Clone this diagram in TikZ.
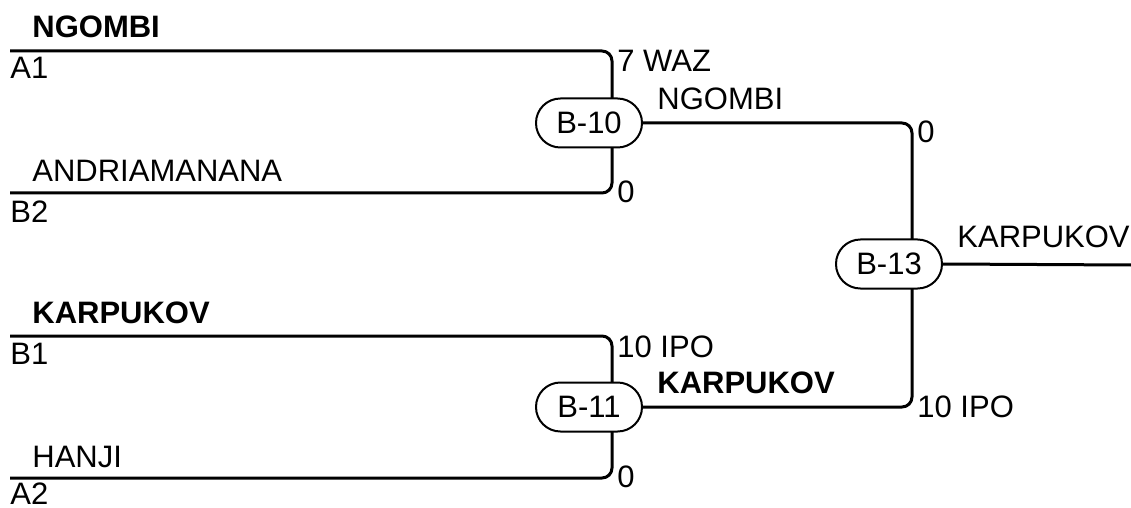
\documentclass[tikz,border=0pt]{standalone}
\usepackage{fontspec}
\setmainfont{Liberation Sans}
\usetikzlibrary{backgrounds}
\begin{document}
\begin{tikzpicture}[x=0.5pt,y=-0.5pt,
  every node/.style={font=\fontsize{15.5}{18}\selectfont, inner sep=0pt},
  lbl/.style={anchor=base west},
  win/.style={anchor=base west, font=\fontsize{15.5}{18}\selectfont\bfseries},
  game/.style={draw, line width=1pt, fill=white, rounded corners=12.2pt, minimum width=53pt, minimum height=24.5pt},
  wire/.style={line width=1.5pt, rounded corners=5pt}]
\useasboundingbox (0,0) rectangle (1131,508);
% games
\node[game] (b10) at (589,123) {B-10};
\node[game] (b11) at (589,407) {B-11};
\node[game] (b13) at (889,264) {B-13};
% wire ends / junctions
\coordinate (a1) at (10,51);
\coordinate (b2) at (10,193);
\coordinate (b1) at (10,336);
\coordinate (a2) at (10,478);
\coordinate (j10) at (612,123);
\coordinate (j11) at (612,407);
\coordinate (j13) at (912,264);
\coordinate (fin) at (1131,265);
\begin{pgfonlayer}{background}
\draw[wire] (a1) -| (j10) |- (b2);
\draw[wire] (b1) -| (j11) |- (a2);
\draw[wire] (b10.east) -| (j13);
\draw[wire] (b11.east) -| (j13);
\draw[wire] (b13.east) -- (fin);
\end{pgfonlayer}
% left labels
\node[win] (n1) at (32,38) {NGOMBI};
\node[lbl] (s1) at (10,79) {A1};
\node[lbl] (n2) at (32,182) {ANDRIAMANANA};
\node[lbl] (s2) at (10,222) {B2};
\node[win] (n3) at (32,323) {KARPUKOV};
\node[lbl] (s3) at (10,364) {B1};
\node[lbl] (n4) at (32,467) {HANJI};
\node[lbl] (s4) at (10,504) {A2};
% scores and winners
\node[lbl] (r1) at (617,72) {7 WAZ};
\node[lbl] (r2) at (617,203) {0};
\node[lbl] (w10) at (657,110) {NGOMBI};
\node[lbl] (r3) at (617,357) {10 IPO};
\node[lbl] (r4) at (617,487) {0};
\node[win] (w11) at (657,393) {KARPUKOV};
\node[lbl] (r5) at (917,143) {0};
\node[lbl] (r6) at (917,417) {10 IPO};
\node[lbl] (w13) at (957,248) {KARPUKOV};
\end{tikzpicture}
\end{document}
